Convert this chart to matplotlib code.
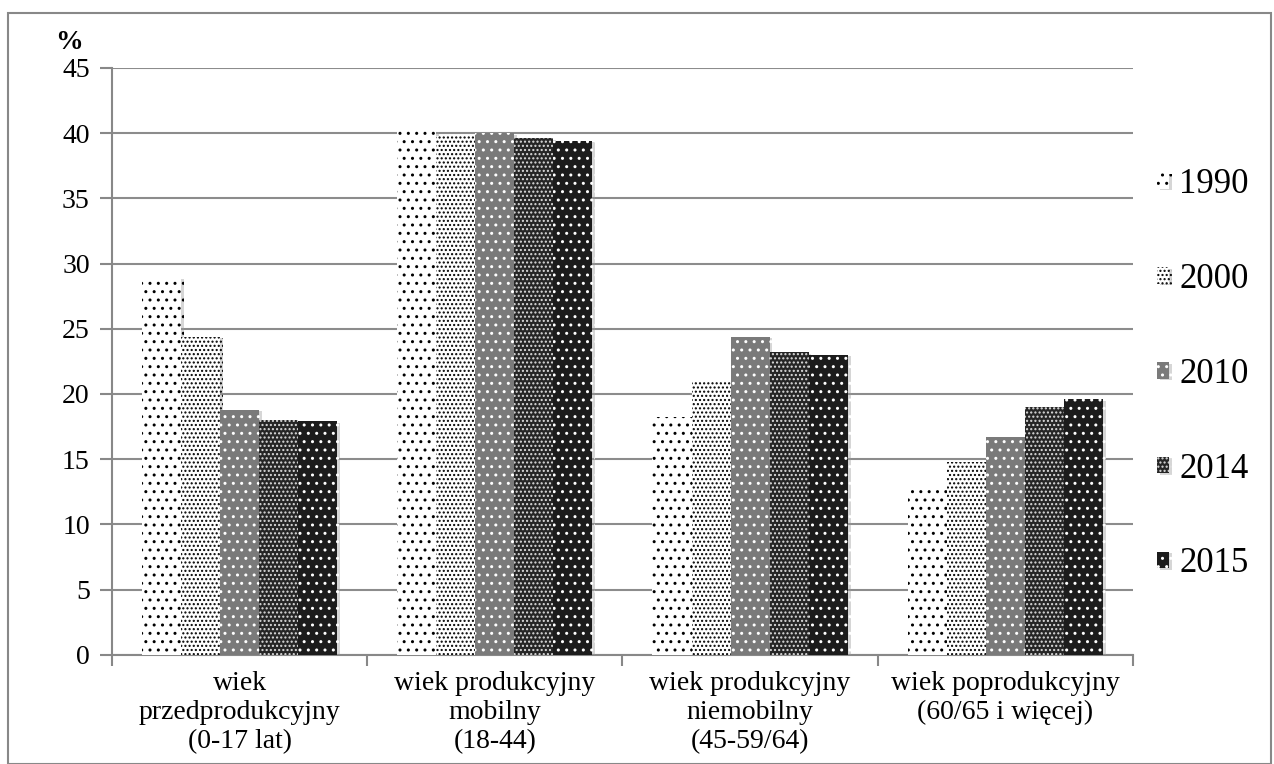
import numpy as np
import matplotlib
matplotlib.use("Agg")
import matplotlib.pyplot as plt
import matplotlib.patheffects as pe
from matplotlib.patches import Rectangle

categories = ["wiek\nprzedprodukcyjny\n(0-17 lat)",
              "wiek produkcyjny\nmobilny\n(18-44)",
              "wiek produkcyjny\nniemobilny\n(45-59/64)",
              "wiek poprodukcyjny\n(60/65 i więcej)"]
years = ["1990", "2000", "2010", "2014", "2015"]
values = {
    "1990": [28.9, 40.2, 18.2, 12.9],
    "2000": [24.4, 39.8, 21.0, 14.8],
    "2010": [18.8, 40.0, 24.4, 16.7],
    "2014": [18.0, 39.6, 23.2, 19.0],
    "2015": [17.9, 39.4, 23.0, 19.6],
}

# face colour, hatch colour, hatch pattern
styles = {
    "1990": ("white", "black", ".."),
    "2000": ("white", "black", "...."),
    "2010": ("#7a7a7a", "white", ".."),
    "2014": ("#262626", "#dddddd", "...."),
    "2015": ("#1c1c1c", "white", ".."),
}

plt.rcParams["font.family"] = ["Liberation Serif", "DejaVu Serif"]
plt.rcParams["hatch.linewidth"] = 1.0

fig = plt.figure(figsize=(12.74, 7.64), dpi=100)
ax = fig.add_axes([0.0879, 0.143, 0.8014, 0.768])

x = np.arange(len(categories))
w = 0.153
for i, yr in enumerate(years):
    fc, hc, h = styles[yr]
    bars = ax.bar(x + (i - 2) * w, values[yr], w, color=fc, edgecolor=hc,
                  hatch=h, linewidth=0, label=yr, zorder=3)
    for b in bars:
        b.set_path_effects([pe.SimplePatchShadow(offset=(2, -1), shadow_rgbFace="#999999", alpha=0.4),
                            pe.Normal()])

ax.set_ylim(0, 45)
ax.set_xlim(-0.5, 3.5)
ax.set_yticks(np.arange(0, 46, 5))
ax.tick_params(axis="y", labelsize=20, length=9, color="#888888", width=1.5, pad=7)
ax.yaxis.grid(True, color="#8c8c8c", linewidth=1.5, zorder=0)
ax.set_axisbelow(True)

ax.set_xticks(x)
ax.set_xticklabels(categories, fontsize=20, linespacing=1.2)
ax.tick_params(axis="x", length=0, pad=12)
ax.set_xticks(np.arange(-0.5, 3.6, 1), minor=True)
ax.tick_params(axis="x", which="minor", length=8, color="#888888", width=1.5)

for s in ["top", "right"]:
    ax.spines[s].set_visible(False)
for s in ["left", "bottom"]:
    ax.spines[s].set_color("#888888")
    ax.spines[s].set_linewidth(1.5)

fig.text(0.054, 0.945, "%", fontsize=20, fontweight="bold", ha="center", va="center")

fig.legend(loc="center left", bbox_to_anchor=(0.908, 0.51), frameon=False,
           fontsize=25, handlelength=0.35, handleheight=0.35, handletextpad=0.3,
           labelspacing=1.78, borderpad=0, borderaxespad=0)

fig.patches.append(Rectangle((0.006, 0.0), 0.992, 0.983, transform=fig.transFigure,
                             fill=False, edgecolor="#888888", linewidth=1.5))

fig.savefig("out.png", dpi=100)
